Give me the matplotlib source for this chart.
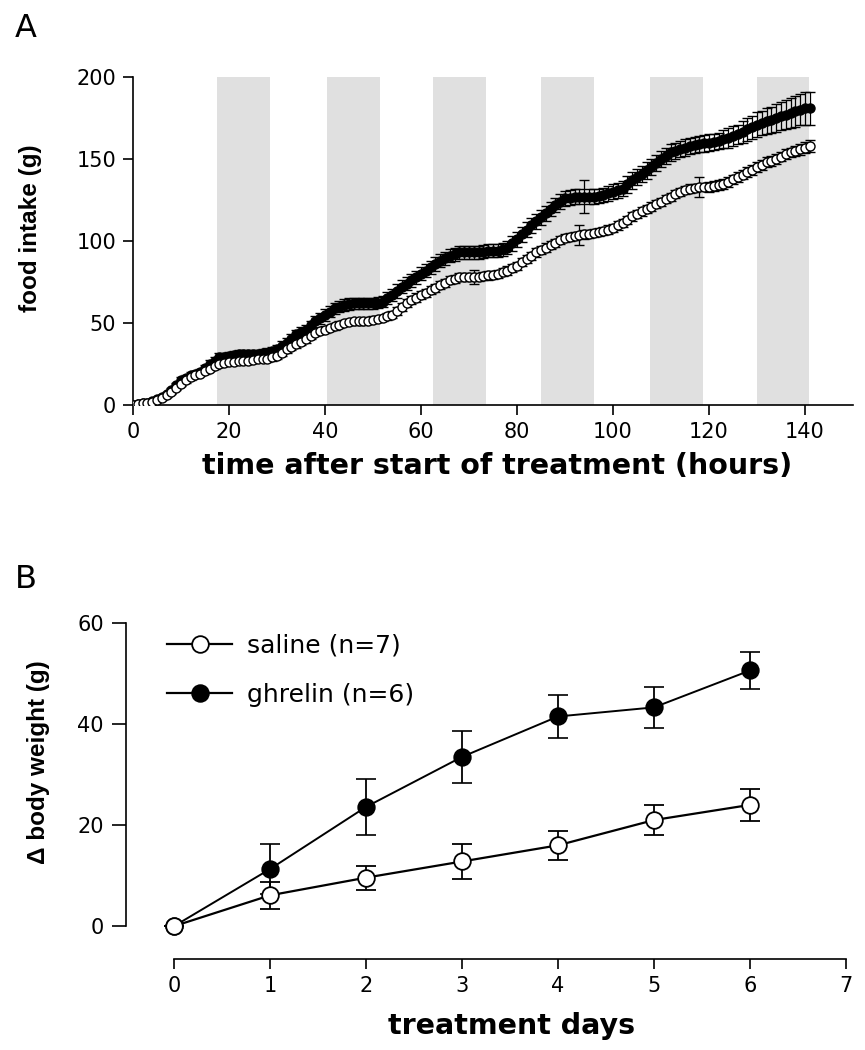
import matplotlib
matplotlib.use("Agg")
import matplotlib.pyplot as plt
from matplotlib.lines import Line2D
import numpy as np

plt.rcParams['font.family'] = ['DejaVu Sans']

# ---------------- Panel A data (hourly) ----------------
hours = list(range(0, 142))

ghrelin_intake = [
    0, 0.5, 1, 1.5, 2.5, 3.5, 5, 7, 9, 12,
    15, 16.5, 18, 19, 20, 22.5, 25, 27, 29, 29.5,
    30, 30.5, 31, 31, 31, 31, 31, 31.5, 32, 33,
    34, 36, 38, 40.5, 43, 44.5, 46, 48.5, 51, 53,
    55, 57, 59, 60, 61, 61.5, 62, 62, 62, 62,
    62, 62.5, 63, 65, 67, 69.5, 72, 74, 76, 78,
    80, 82, 84, 86, 88, 89.5, 91, 92, 93, 93,
    93, 93, 93, 93.5, 94, 94, 94, 95, 96, 98.5,
    101, 104, 107, 109.5, 112, 114.5, 117, 119.5, 122, 124,
    126, 126.5, 127, 127, 127, 127, 127, 127.5, 128, 129,
    130, 131, 132, 134.5, 137, 139, 141, 143, 145, 147.5,
    150, 152, 154, 155, 156, 157, 158, 158.5, 159, 159.5,
    160, 160.5, 161, 162, 163, 164, 165, 166.5, 168, 169.5,
    171, 172, 173, 174, 175, 176, 177, 178, 179, 180,
    181, 181]

ghrelin_intake_err = [
    0.3, 0.4, 0.5, 0.6, 0.7, 0.8, 1, 1.2, 1.4, 1.6,
    1.8, 2, 2, 2, 2, 2, 2.2, 2.4, 2.5, 2.5,
    2.5, 2.5, 2.5, 2.5, 2.5, 2.5, 2.5, 2.5, 2.5, 2.6,
    2.8, 3, 3, 3, 3, 3, 3, 3, 3.2, 3.4,
    3.5, 3.5, 3.5, 3.5, 3.5, 3.5, 3.5, 3.5, 3.5, 3.5,
    3.5, 3.5, 3.5, 3.6, 3.8, 4, 4, 4, 4, 4,
    4, 4, 4, 4, 4, 4, 4, 4, 4, 4,
    4, 4, 4, 4, 4, 4, 4, 4, 4.2, 4.4,
    4.5, 4.5, 4.5, 4.5, 4.5, 4.5, 4.5, 4.5, 4.5, 4.5,
    4.5, 4.5, 4.5, 4.5, 10, 4.5, 4.5, 4.5, 4.5, 4.5,
    4.5, 4.5, 4.5, 5, 5, 5, 5, 5, 5, 5,
    5, 5, 5, 5, 5, 5, 5, 5, 5, 5,
    5, 5, 5, 5.5, 6, 6, 6, 6.5, 7, 7,
    7.5, 7.5, 8, 8, 8.5, 8.5, 9, 9, 9.5, 9.5,
    10, 10]

saline_intake = [
    0, 0.5, 1, 1, 2, 3, 4, 6, 8, 10.5,
    13, 15, 17, 18, 19, 20.5, 22, 23.5, 25, 25.5,
    26, 26.5, 27, 27, 27, 27.5, 28, 28, 28, 29,
    30, 32, 34, 35.5, 37, 38.5, 40, 42, 44, 45,
    46, 47, 48, 49, 50, 50.5, 51, 51, 51, 51.5,
    52, 52.5, 53, 54, 55, 57.5, 60, 62, 64, 65.5,
    67, 68.5, 70, 71.5, 73, 74.5, 76, 77, 78, 78,
    78, 78, 78, 78.5, 79, 79.5, 80, 81, 82, 83.5,
    85, 87, 89, 91, 93, 94.5, 96, 97.5, 99, 100.5,
    102, 102.5, 103, 103.5, 104, 104.5, 105, 105.5, 106, 107,
    108, 109.5, 111, 113, 115, 116.5, 118, 119.5, 121, 122.5,
    124, 125.5, 127, 128.5, 130, 131, 132, 132.5, 133, 133,
    133, 133.5, 134, 135, 136, 137.5, 139, 140.5, 142, 143.5,
    145, 146.5, 148, 149, 150, 151.5, 153, 154, 155, 156,
    157, 158]

saline_intake_err = [
    0.3, 0.4, 0.5, 0.5, 0.6, 0.7, 0.8, 1, 1, 1.2,
    1.3, 1.4, 1.5, 1.5, 1.5, 1.5, 1.5, 1.6, 1.7, 1.8,
    1.8, 1.8, 1.8, 1.8, 1.8, 1.8, 1.8, 1.8, 1.8, 1.9,
    2, 2, 2, 2, 2, 2, 2, 2, 2, 2,
    2, 2, 2, 2, 2, 2, 2, 2, 2, 2,
    2, 2, 2, 2, 2.2, 2.4, 2.5, 2.5, 2.5, 2.5,
    2.5, 2.5, 2.5, 2.5, 2.5, 2.5, 2.5, 2.5, 2.5, 2.5,
    2.5, 4.5, 2.5, 2.5, 2.5, 2.5, 2.5, 2.5, 2.5, 2.5,
    2.5, 2.5, 2.5, 2.5, 2.5, 2.5, 2.5, 2.5, 2.5, 2.5,
    2.5, 2.5, 2.5, 6, 2.5, 2.5, 2.5, 2.5, 2.5, 2.5,
    2.5, 2.5, 2.5, 2.5, 2.5, 2.5, 2.5, 2.5, 2.5, 2.5,
    2.5, 2.5, 2.5, 2.5, 2.5, 2.5, 2.5, 2.5, 6, 2.5,
    3, 3, 3, 3, 3, 3, 3, 3, 3, 3,
    3, 3, 3, 3, 3, 3, 3, 3, 3.2, 3.4,
    3.5, 3.5]

dark_start = [17.5, 40.4, 62.5, 85.0, 107.8, 130.0]
dark_end = [28.6, 51.4, 73.5, 96.0, 118.7, 140.8]

a_xticks = [0, 20, 40, 60, 80, 100, 120, 140]
a_yticks = [0, 50, 100, 150, 200]

# ---------------- Panel B data ----------------
days = [0, 1, 2, 3, 4, 5, 6]
saline_bw = [0, 6.1, 9.6, 12.8, 16.0, 21.0, 24.0]
saline_bw_err = [0, 2.7, 2.4, 3.4, 2.9, 3.0, 3.2]
ghrelin_bw = [0, 11.3, 23.6, 33.5, 41.5, 43.3, 50.6]
ghrelin_bw_err = [0, 5.0, 5.6, 5.1, 4.3, 4.0, 3.7]

b_xticks = [0, 1, 2, 3, 4, 5, 6, 7]
b_yticks = [0, 20, 40, 60]

saline_label = "saline (n=7)"
ghrelin_label = "ghrelin (n=6)"

W, H = 865, 1050
fig = plt.figure(figsize=(W / 100, H / 100), dpi=100)

def fx(px):
    return px / W

def fy(py):
    return 1 - py / H

narrow = ['Liberation Sans', 'DejaVu Sans']
tick_fs = 15

# ---------------- Panel A ----------------
axA = fig.add_axes([fx(133), fy(405), fx(853) - fx(133), fy(77) - fy(405)])
for s, e in zip(dark_start, dark_end):
    axA.axvspan(s, e, ymin=0, ymax=1, color='#e0e0e0', lw=0, zorder=0)

axA.errorbar(hours, ghrelin_intake, yerr=ghrelin_intake_err, fmt='-o', color='black',
             ms=6.5, mfc='black', mec='black', mew=1.0, lw=0.9,
             elinewidth=0.9, capsize=3.5, capthick=1.0, zorder=3)
axA.errorbar(hours, saline_intake, yerr=saline_intake_err, fmt='-o', color='black',
             ms=6.5, mfc='white', mec='black', mew=1.0, lw=0.9,
             elinewidth=0.9, capsize=3.5, capthick=1.0, zorder=4)

axA.set_xlim(0, 150)
axA.set_ylim(0, 200)
axA.set_xticks(a_xticks)
axA.set_yticks(a_yticks)
for sp in ['top', 'right']:
    axA.spines[sp].set_visible(False)
for sp in ['left', 'bottom']:
    axA.spines[sp].set_linewidth(1.2)
axA.tick_params(axis='both', direction='out', length=7, width=1.2, labelsize=tick_fs)
axA.tick_params(axis='y', pad=5)
axA.tick_params(axis='x', pad=5)
axA.set_xlabel("time after start of treatment (hours)", fontsize=20.5, fontweight='bold')
axA.xaxis.set_label_coords(0.506, -0.142)
axA.set_ylabel("food intake (g)", fontsize=17.5, fontweight='bold', family=narrow)
axA.yaxis.set_label_coords(-0.127, 0.54)

# ---------------- Panel B ----------------
axB = fig.add_axes([fx(126), fy(959), fx(846) - fx(126), fy(623) - fy(959)])
axB.errorbar(days, ghrelin_bw, yerr=ghrelin_bw_err, fmt='-o', color='black',
             ms=12, mfc='black', mec='black', mew=1.2, lw=1.4,
             elinewidth=1.3, capsize=7, capthick=1.3, zorder=3)
axB.errorbar(days, saline_bw, yerr=saline_bw_err, fmt='-o', color='black',
             ms=12, mfc='white', mec='black', mew=1.3, lw=1.6,
             elinewidth=1.3, capsize=7, capthick=1.3, zorder=4)
axB.set_xlim(-0.5, 7)
axB.set_ylim(-6.5, 60)
axB.set_xticks(b_xticks)
axB.set_yticks(b_yticks)
axB.spines['left'].set_bounds(0, 60)
axB.spines['bottom'].set_bounds(0, 7)
for sp in ['top', 'right']:
    axB.spines[sp].set_visible(False)
for sp in ['left', 'bottom']:
    axB.spines[sp].set_linewidth(1.2)
axB.tick_params(axis='y', direction='out', length=10, width=1.2, labelsize=tick_fs, pad=6)
axB.tick_params(axis='x', direction='out', length=7, width=1.2, labelsize=tick_fs, pad=5)
axB.set_xlabel("treatment days", fontsize=20.5, fontweight='bold')
axB.xaxis.set_label_coords(0.536, -0.158)
axB.set_ylabel("\u0394 body weight (g)", fontsize=17.5, fontweight='bold', family=narrow)
axB.yaxis.set_label_coords(-0.105, 0.586)

handles = [Line2D([], [], color='black', lw=1.6, marker='o', ms=12, mfc='white', mec='black', mew=1.3),
           Line2D([], [], color='black', lw=1.6, marker='o', ms=12, mfc='black', mec='black', mew=1.3)]
axB.legend(handles, [saline_label, ghrelin_label], loc='upper left',
           bbox_to_anchor=(fx(167), fy(634)), bbox_transform=fig.transFigure,
           frameon=False, fontsize=18, handlelength=2.6, handletextpad=0.6,
           labelspacing=1.0, borderpad=0, borderaxespad=0)

fig.text(fx(15), fy(37), "A", fontsize=23, ha='left', va='baseline')
fig.text(fx(15), fy(588), "B", fontsize=23, ha='left', va='baseline')

fig.savefig("out.png", dpi=100)
